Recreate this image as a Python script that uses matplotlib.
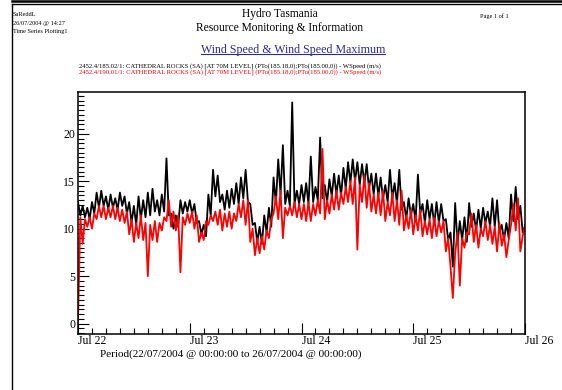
import matplotlib
matplotlib.use("Agg")
import matplotlib.pyplot as plt
import matplotlib.dates as mdates
from matplotlib.lines import Line2D
from matplotlib.ticker import MultipleLocator
import pandas as pd

# Wind speed maximum (black), half-hourly from 22/07/2004 00:00
wspeed_max = [
    12.8, 11.4, 12.4, 11.2, 12.2, 11.0, 12.8, 11.6, 13.8, 12.2, 14.0, 12.4,
    13.4, 12.0, 13.6, 12.2, 13.2, 12.0, 13.8, 12.4, 13.4, 11.6, 12.8, 10.6,
    12.4, 10.4, 13.4, 11.0, 13.0, 11.2, 13.8, 11.4, 14.2, 11.8, 13.0, 11.4,
    13.6, 11.8, 17.4, 11.4, 11.6, 10.0, 11.4, 10.2, 13.0, 11.6, 12.8, 11.8,
    13.0, 11.6, 12.6, 10.6, 10.8, 9.4, 10.4, 9.2, 13.6, 11.4, 16.2, 13.4,
    15.6, 12.8, 13.6, 12.0, 14.0, 12.2, 14.2, 12.6, 14.8, 12.6, 15.4, 13.2,
    16.2, 12.8, 12.6, 10.4, 10.6, 8.6, 10.2, 8.4, 11.4, 9.6, 12.2, 10.2,
    15.4, 12.6, 17.3, 13.6, 18.8, 12.6, 14.0, 12.4, 23.3, 12.6, 14.0, 12.6,
    14.6, 12.8, 14.8, 12.6, 17.6, 12.8, 14.4, 13.0, 19.6, 13.2, 14.6, 12.8,
    15.2, 13.4, 15.8, 13.6, 15.6, 13.4, 16.4, 14.2, 17.0, 14.8, 17.3, 15.0,
    17.0, 14.6, 16.8, 14.8, 16.8, 14.2, 15.8, 13.6, 15.8, 13.4, 15.4, 13.2,
    14.6, 12.8, 16.2, 13.2, 14.8, 12.6, 16.2, 12.0, 12.8, 11.0, 13.2, 11.4,
    12.6, 10.8, 15.7, 11.6, 12.6, 10.6, 13.0, 11.0, 12.6, 10.4, 12.8, 10.6,
    12.6, 10.8, 11.0, 8.8, 9.6, 6.0, 12.7, 8.4, 10.8, 8.8, 11.2, 8.6,
    12.7, 10.2, 11.6, 9.8, 12.0, 10.0, 12.2, 10.6, 11.8, 10.2, 13.2, 10.2,
    13.0, 9.6, 10.4, 8.8, 10.6, 9.0, 13.6, 10.8, 14.4, 11.0, 12.4, 9.6,
    10.2,
]

# Wind speed (red)
wspeed = [
    0.2, 11.2, 8.4, 11.0, 10.2, 11.2, 10.0, 11.6, 11.0, 12.4, 11.2, 12.4,
    11.0, 12.2, 11.2, 12.4, 11.0, 12.2, 10.8, 12.0, 10.6, 11.8, 9.4, 11.0,
    8.6, 10.6, 9.0, 11.4, 8.8, 10.6, 5.0, 10.4, 8.8, 10.8, 8.6, 10.6,
    9.8, 11.2, 10.8, 13.0, 10.2, 11.8, 9.8, 11.4, 5.4, 11.2, 10.4, 11.6,
    10.6, 11.8, 10.0, 11.4, 8.6, 9.6, 8.8, 10.8, 10.4, 11.4, 10.8, 11.8,
    10.4, 12.0, 9.8, 11.6, 10.2, 11.8, 10.0, 11.6, 10.8, 12.6, 11.2, 13.0,
    10.4, 13.0, 8.6, 10.0, 7.2, 9.0, 7.4, 9.2, 7.8, 9.8, 9.0, 11.0,
    11.6, 13.4, 11.0, 14.0, 9.0, 12.2, 11.4, 12.4, 11.4, 12.8, 11.2, 12.6,
    11.0, 12.6, 10.8, 12.8, 10.8, 12.6, 11.4, 13.0, 11.6, 18.4, 11.0, 13.0,
    11.6, 13.6, 12.0, 14.0, 12.0, 13.8, 12.6, 14.4, 12.8, 15.0, 12.6, 15.4,
    7.8, 14.6, 12.8, 15.6, 12.2, 14.8, 11.8, 13.6, 11.6, 13.8, 11.4, 14.0,
    10.8, 12.8, 11.4, 13.8, 10.8, 13.0, 10.4, 14.0, 9.8, 11.4, 10.0, 12.0,
    9.4, 11.4, 9.8, 12.0, 9.2, 10.8, 9.4, 11.0, 9.0, 11.2, 9.2, 10.8,
    9.6, 10.8, 7.6, 9.0, 6.0, 2.7, 7.4, 9.6, 4.0, 9.0, 8.0, 9.6,
    9.4, 11.6, 8.6, 10.4, 8.0, 10.0, 9.2, 10.8, 8.8, 10.4, 8.4, 10.2,
    7.6, 10.6, 8.2, 9.4, 7.0, 8.8, 10.4, 12.6, 9.8, 13.2, 7.6, 9.2,
    10.4,
]

times = pd.date_range("2004-07-22 00:00", periods=len(wspeed), freq="30min")
day_labels = ["Jul 22", "Jul 23", "Jul 24", "Jul 25", "Jul 26"]
day_ticks = pd.date_range("2004-07-22", periods=len(day_labels), freq="D")

legend_black = ("2452.4/185.02/1: CATHEDRAL ROCKS (SA) [AT 70M LEVEL] "
                "(PTo(185.18,0);PTo(185.00,0)) - WSpeed (m/s)")
legend_red = ("2452.4/190.01/1: CATHEDRAL ROCKS (SA) [AT 70M LEVEL] "
              "(PTo(185.18,0);PTo(185.00,0)) - WSpeed (m/s)")

plt.rcParams["font.family"] = ["Liberation Serif", "DejaVu Serif"]

W, H = 562, 390
fig = plt.figure(figsize=(W / 100, H / 100), dpi=100)


def fx(px):
    return px / W


def fy(py):
    return 1 - py / H


# page frame
fig.add_artist(Line2D([fx(12), 1], [fy(1), fy(1)], color="black", lw=1.8))
fig.add_artist(Line2D([fx(12), 1], [fy(4), fy(4)], color="black", lw=1.0))
fig.add_artist(Line2D([fx(12), fx(12)], [fy(4), 0], color="black", lw=1.0))

# header
fig.text(fx(13), fy(15), "SaReddL", fontsize=4.5, va="center")
fig.text(fx(13), fy(23), "26/07/2004 @ 14:27", fontsize=4.5, va="center")
fig.text(fx(13), fy(31), "Time Series Plotting1", fontsize=4.5, va="center")
fig.text(fx(494), fy(16), "Page 1 of 1", fontsize=4.5, va="center", ha="center")
fig.text(fx(280), fy(14), "Hydro Tasmania", fontsize=8.3, va="center", ha="center")
fig.text(fx(280), fy(28), "Resource Monitoring & Information", fontsize=8.3,
         va="center", ha="center")
title = fig.text(fx(293), fy(50), "Wind Speed & Wind Speed Maximum", fontsize=8.6,
                 va="center", ha="center", color="#2a2a9a")
fig.text(fx(230), fy(66), legend_black, fontsize=4.8, va="center", ha="center")
fig.text(fx(230), fy(72), legend_red, fontsize=4.8, va="center", ha="center",
         color="red")
fig.text(fx(100), fy(354), "Period(22/07/2004 @ 00:00:00 to 26/07/2004 @ 00:00:00)",
         fontsize=8, va="center", ha="left")

ax = fig.add_axes([fx(78), fy(334), fx(525) - fx(78), fy(92) - fy(334)])
ax.plot(times, wspeed_max, color="black", lw=1.3)
ax.plot(times, wspeed, color="red", lw=1.3)

ax.set_xlim(day_ticks[0], day_ticks[-1])
ax.set_ylim(-1.1, 24.4)

ax.set_xticks(day_ticks)
ax.set_xticklabels(day_labels, ha="left")
ax.xaxis.set_minor_locator(mdates.HourLocator(byhour=range(0, 24, 3)))
ax.yaxis.set_major_locator(MultipleLocator(5))
ax.yaxis.set_minor_locator(MultipleLocator(0.5))
ax.tick_params(which="both", direction="in", width=0.8, labelsize=8.5,
               top=False, right=False)
ax.tick_params(which="major", length=8)
ax.tick_params(which="minor", length=4.5)
ax.tick_params(axis="x", pad=1)
ax.tick_params(axis="y", pad=2)
for s in ax.spines.values():
    s.set_linewidth(1.1)

# underline the blue title
fig.canvas.draw()
bb = title.get_window_extent().transformed(fig.transFigure.inverted())
fig.add_artist(Line2D([bb.x0, bb.x1], [bb.y0 + 0.004, bb.y0 + 0.004],
                      color="#2a2a9a", lw=0.8))

fig.savefig("out.png", dpi=100)
